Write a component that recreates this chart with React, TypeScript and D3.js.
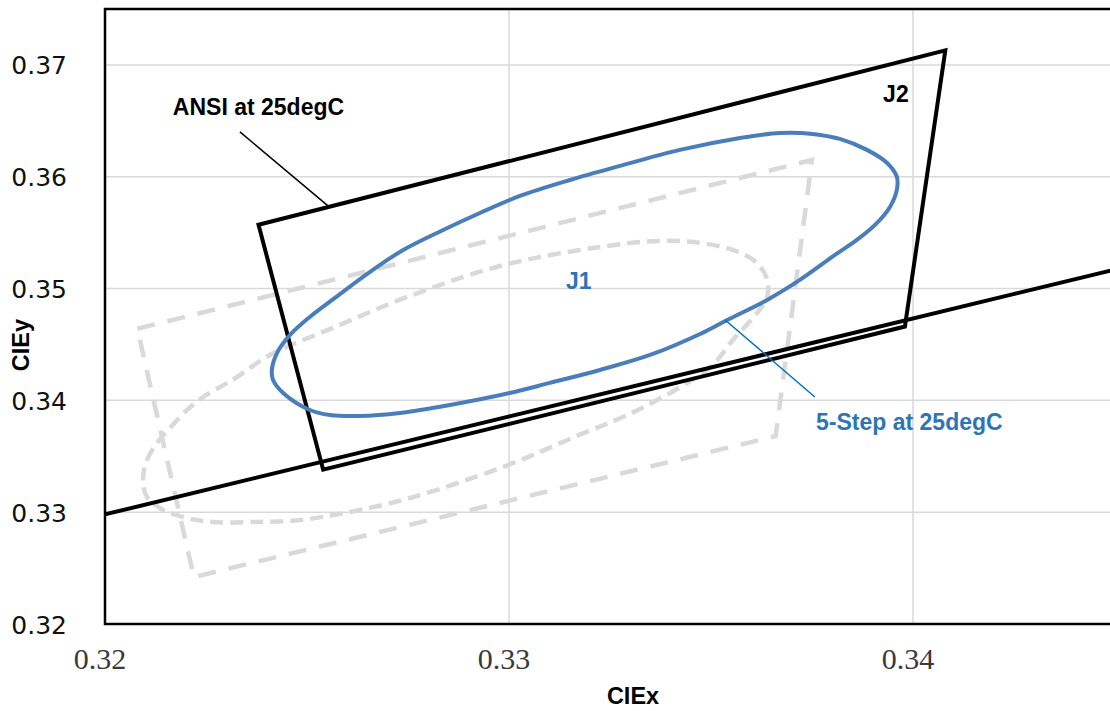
import React from "react";
import * as d3 from "d3";

// Axis ticks
const X_TICKS = [0.32, 0.33, 0.34];
const Y_TICKS = [0.32, 0.33, 0.34, 0.35, 0.36, 0.37];

// ANSI J2 bin quadrangle at 25degC (corners, closed)
const ANSI_X = [0.3238, 0.3408, 0.3398, 0.3254];
const ANSI_Y = [0.3557, 0.3713, 0.3466, 0.3338];

// Lower reference line
const REF_X = [0.32, 0.345];
const REF_Y = [0.3298, 0.3517];

// J1 bin quadrangle (grey, dashed)
const J1_X = [0.3208, 0.3375, 0.3366, 0.3222];
const J1_Y = [0.3464, 0.3615, 0.3368, 0.3242];

// 5-step MacAdam ellipse at 25degC (blue)
const STEP5_X = [
  0.32413, 0.32426, 0.32458, 0.32507, 0.32569, 0.32656, 0.32738, 0.32837, 0.32928, 0.33027,
  0.33151, 0.33275, 0.33423, 0.33572, 0.33671, 0.33752, 0.33819, 0.33886, 0.33936, 0.3396,
  0.3396, 0.33943, 0.33906, 0.33861, 0.33807, 0.3372, 0.33639, 0.3354, 0.33473, 0.33349,
  0.33225, 0.33101, 0.33002, 0.32854, 0.3273, 0.32631, 0.32557, 0.32507, 0.32441, 0.32416,
];
const STEP5_Y = [
  0.34272, 0.34424, 0.34585, 0.34746, 0.34916, 0.35149, 0.35345, 0.35524, 0.35676, 0.35828,
  0.35971, 0.36097, 0.3624, 0.36347, 0.36392, 0.36383, 0.36338, 0.3624, 0.36123, 0.35998,
  0.35882, 0.3573, 0.35569, 0.35435, 0.35301, 0.35077, 0.34898, 0.34719, 0.34594, 0.34406,
  0.34272, 0.34156, 0.34066, 0.33959, 0.33887, 0.3386, 0.33869, 0.33914, 0.34066, 0.34182,
];

// Grey ellipse (dashed)
const GREY_X = [
  0.32094, 0.32104, 0.32129, 0.32161, 0.32203, 0.32243, 0.32285, 0.32327, 0.32408, 0.32564,
  0.32748, 0.32978, 0.33225, 0.33374, 0.33473, 0.33554, 0.33614, 0.33639, 0.33639, 0.33614,
  0.33554, 0.33498, 0.33324, 0.33168, 0.32985, 0.32755, 0.32606, 0.32483, 0.32366, 0.32267,
  0.32203, 0.32144, 0.32104,
];
const GREY_Y = [
  0.33288, 0.33467, 0.33619, 0.33753, 0.33914, 0.3403, 0.3412, 0.34209, 0.34406, 0.34648,
  0.34925, 0.35202, 0.35372, 0.35426, 0.35408, 0.35345, 0.35229, 0.35077, 0.34925, 0.34782,
  0.3454, 0.34299, 0.33923, 0.33682, 0.33404, 0.33127, 0.33002, 0.3293, 0.32912, 0.32912,
  0.32948, 0.3302, 0.33136,
];

// Callout leaders: [x1, y1, x2, y2]
const ANSI_LEADER = [0.32334, 0.36401, 0.32552, 0.35739];
const STEP5_LEADER = [0.33535, 0.34719, 0.33757, 0.3403];

// Text labels anchored in data units
const LABELS = [
  { text: "ANSI at 25degC", x: 0.32168, y: 0.36553, color: "#000000" },
  { text: "J2", x: 0.33926, y: 0.36669, color: "#000000" },
  { text: "J1", x: 0.33141, y: 0.34996, color: "#2E75B6" },
  { text: "5-Step at 25degC", x: 0.3376, y: 0.33735, color: "#2E75B6" },
];

const W = 1110;
const H = 711;
const M = { left: 105, top: 9, right: 1115, bottom: 624 };

export default function App() {
  const x = d3.scaleLinear().domain([0.32, 0.345]).range([M.left, M.right]);
  const y = d3.scaleLinear().domain([0.32, 0.375]).range([M.bottom, M.top]);

  const zip = (xs: number[], ys: number[]) => xs.map((v, i) => [v, ys[i]] as [number, number]);

  const poly = d3
    .line<[number, number]>()
    .x((d) => x(d[0]))
    .y((d) => y(d[1]))
    .curve(d3.curveLinearClosed);
  const smoothClosed = d3
    .line<[number, number]>()
    .x((d) => x(d[0]))
    .y((d) => y(d[1]))
    .curve(d3.curveCatmullRomClosed.alpha(0.5));
  const straight = d3
    .line<[number, number]>()
    .x((d) => x(d[0]))
    .y((d) => y(d[1]));

  const font = "'Liberation Sans', Arial, sans-serif";

  return (
    <svg
      width={W}
      height={H}
      style={{ position: "absolute", left: 0, top: 0, background: "#fff" }}
    >
      <defs>
        <clipPath id="plot-clip">
          <rect x={M.left} y={M.top} width={M.right - M.left} height={M.bottom - M.top} />
        </clipPath>
      </defs>
      <rect x={0} y={0} width={W} height={H} fill="#fff" />

      {/* grid */}
      <g stroke="#D9D9D9" strokeWidth={1.5}>
        {X_TICKS.filter((t) => t > 0.32).map((t) => (
          <line key={"gx" + t} x1={x(t)} x2={x(t)} y1={M.top} y2={M.bottom} />
        ))}
        {Y_TICKS.filter((t) => t > 0.32).map((t) => (
          <line key={"gy" + t} x1={M.left} x2={M.right} y1={y(t)} y2={y(t)} />
        ))}
      </g>

      <g clipPath="url(#plot-clip)" fill="none">
        {/* grey J1 shapes */}
        <path
          d={poly(zip(J1_X, J1_Y)) || ""}
          stroke="#D9D9D9"
          strokeWidth={4.5}
          strokeDasharray="18,13"
          strokeLinejoin="miter"
        />
        <path
          d={smoothClosed(zip(GREY_X, GREY_Y)) || ""}
          stroke="#D9D9D9"
          strokeWidth={4.5}
          strokeDasharray="13,7"
        />
        {/* ANSI J2 quadrangle and reference line */}
        <path
          d={poly(zip(ANSI_X, ANSI_Y)) || ""}
          stroke="#000"
          strokeWidth={4}
          strokeLinejoin="miter"
        />
        <path d={straight(zip(REF_X, REF_Y)) || ""} stroke="#000" strokeWidth={4} />
        {/* 5-step ellipse */}
        <path
          d={smoothClosed(zip(STEP5_X, STEP5_Y)) || ""}
          stroke="#4A7EBB"
          strokeWidth={4}
        />
        {/* leaders */}
        <line
          x1={x(ANSI_LEADER[0])}
          y1={y(ANSI_LEADER[1])}
          x2={x(ANSI_LEADER[2])}
          y2={y(ANSI_LEADER[3])}
          stroke="#000"
          strokeWidth={1.5}
        />
        <line
          x1={x(STEP5_LEADER[0])}
          y1={y(STEP5_LEADER[1])}
          x2={x(STEP5_LEADER[2])}
          y2={y(STEP5_LEADER[3])}
          stroke="#0070C0"
          strokeWidth={1.5}
        />
      </g>

      {/* plot frame */}
      <rect
        x={M.left}
        y={M.top}
        width={M.right - M.left}
        height={M.bottom - M.top}
        fill="none"
        stroke="#000"
        strokeWidth={2.5}
      />

      {/* labels */}
      {LABELS.map((l) => (
        <text
          key={l.text}
          x={x(l.x)}
          y={y(l.y)}
          fill={l.color}
          fontFamily={font}
          fontWeight="bold"
          fontSize={23}
        >
          {l.text}
        </text>
      ))}

      {/* y tick labels */}
      {Y_TICKS.map((t) => (
        <text
          key={"ty" + t}
          x={67}
          y={y(t) + 9.5}
          textAnchor="end"
          fontFamily="'DejaVu Sans', Verdana, sans-serif"
          fontSize={25}
          fill="#111"
        >
          {d3.format(".2f")(t)}
        </text>
      ))}

      {/* x tick labels */}
      {X_TICKS.map((t) => (
        <text
          key={"tx" + t}
          x={x(t) - 5}
          y={669}
          textAnchor="middle"
          fontFamily="'Liberation Serif', 'Times New Roman', serif"
          fontSize={30}
          fill="#3a3a3a"
        >
          {d3.format(".2f")(t)}
        </text>
      ))}

      {/* axis titles */}
      <text
        x={633}
        y={704}
        textAnchor="middle"
        fontFamily={font}
        fontWeight="bold"
        fontSize={23.5}
        fill="#000"
      >
        CIEx
      </text>
      <text
        transform="translate(29, 345) rotate(-90)"
        textAnchor="middle"
        fontFamily={font}
        fontWeight="bold"
        fontSize={23.5}
        fill="#000"
      >
        CIEy
      </text>
    </svg>
  );
}
